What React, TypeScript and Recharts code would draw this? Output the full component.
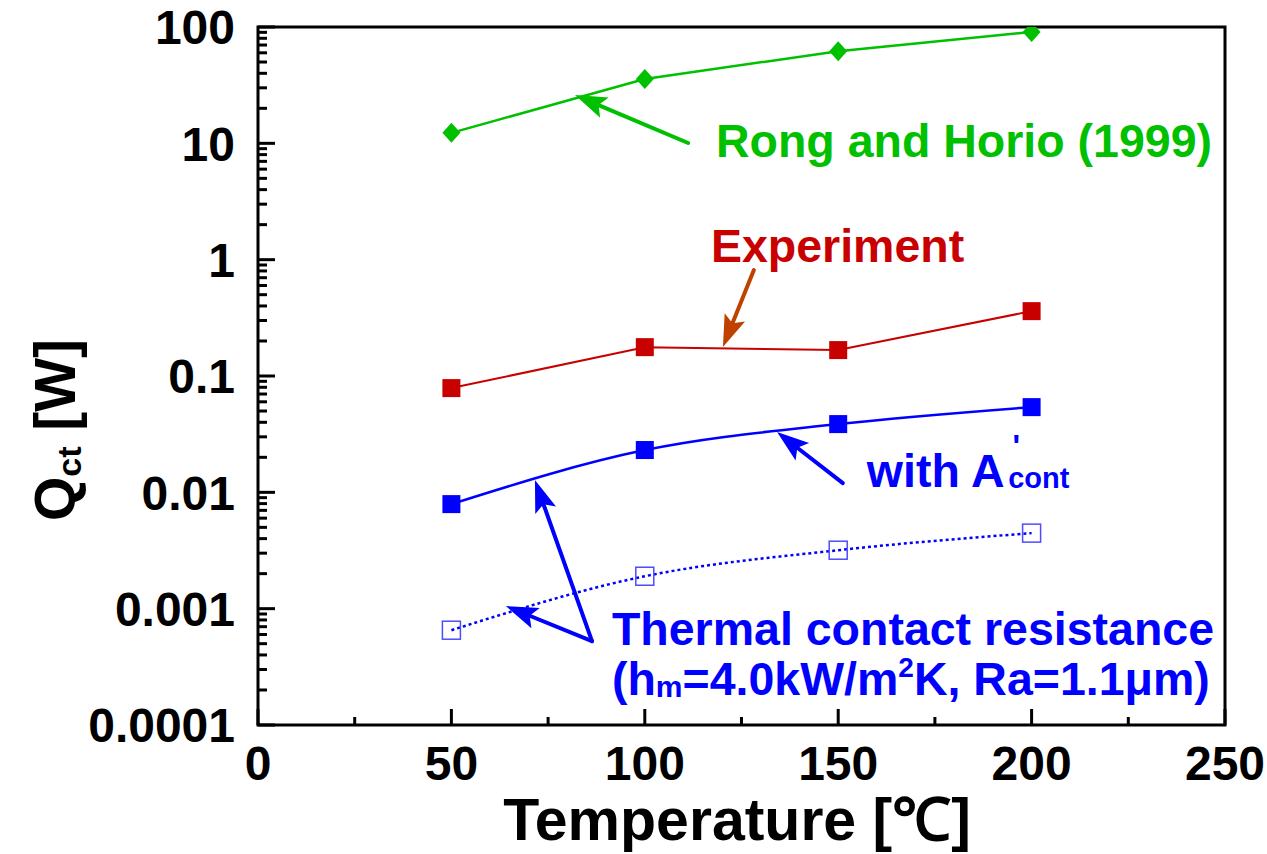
import React from 'react';
import {
  LineChart,
  Line,
  XAxis,
  YAxis,
  ReferenceArea,
  ReferenceLine,
  ReferenceDot,
} from 'recharts';

const FONT = "'Liberation Sans', Arial, Helvetica, sans-serif";
const GREEN = '#00c000';
const RED = '#c80000';
const BLUE = '#0000ff';
const ORANGE = '#c04000';

// data
const temps = [50, 100, 150, 200];
const rongHorio = [12.3, 35.7, 62, 90.6];
const experiment = [0.0787, 0.177, 0.167, 0.361];
const withAcont = [0.00792, 0.0231, 0.0386, 0.054];
const contactRes = [0.000653, 0.0019, 0.00318, 0.00446];

const xTicks = [0, 25, 50, 75, 100, 125, 150, 175, 200, 225, 250];
const xMajor = [0, 50, 100, 150, 200, 250];
const yDecades = [0.0001, 0.001, 0.01, 0.1, 1, 10, 100];
const yLabels = ['0.0001', '0.001', '0.01', '0.1', '1', '10', '100'];
const minorSteps = [2, 3, 4, 5, 6, 7, 8, 9];

const yTicks: number[] = [];
yDecades.forEach((d, i) => {
  yTicks.push(d);
  if (i < yDecades.length - 1) minorSteps.forEach((m) => yTicks.push(+(d * m).toPrecision(3)));
});

const data = temps.map((t, i) => ({
  t,
  rong: rongHorio[i],
  exp: experiment[i],
  acont: withAcont[i],
  tcr: contactRes[i],
}));

const YTick = (props: any) => {
  const { x, y, payload } = props;
  const idx = yDecades.findIndex((d) => Math.abs(d - payload.value) < d * 1e-6);
  const major = idx >= 0;
  return (
    <g>
      <line x1={x} x2={x + (major ? 17 : 9)} y1={y} y2={y} stroke="#000" strokeWidth={3} />
      {major && (
        <text x={x - 23} y={y} dy="0.36em" textAnchor="end" fontFamily={FONT} fontWeight="bold" fontSize={48} fill="#000">
          {yLabels[idx]}
        </text>
      )}
    </g>
  );
};

const XTick = (props: any) => {
  const { x, y, payload } = props;
  const major = xMajor.includes(payload.value);
  return (
    <g>
      <line x1={x} x2={x} y1={y} y2={y - (major ? 16 : 8)} stroke="#000" strokeWidth={3} />
      {major && (
        <text x={x} y={y + 55} textAnchor="middle" fontFamily={FONT} fontWeight="bold" fontSize={48} fill="#000">
          {payload.value}
        </text>
      )}
    </g>
  );
};

const Arrow = (props: any) => {
  const { x1, y1, x2, y2, color } = props;
  const dx = x2 - x1;
  const dy = y2 - y1;
  const len = Math.sqrt(dx * dx + dy * dy) || 1;
  const ux = dx / len;
  const uy = dy / len;
  const hl = 32;
  const hw = 11;
  const bx = x2 - ux * hl;
  const by = y2 - uy * hl;
  const nx = x2 - ux * hl * 0.8;
  const ny = y2 - uy * hl * 0.8;
  const pts = [
    [x2, y2],
    [bx - uy * hw, by + ux * hw],
    [nx, ny],
    [bx + uy * hw, by - ux * hw],
  ]
    .map((p) => p.join(','))
    .join(' ');
  return (
    <g>
      <line x1={x1} y1={y1} x2={nx} y2={ny} stroke={color} strokeWidth={4} strokeLinecap="round" />
      <polygon points={pts} fill={color} />
    </g>
  );
};

const squareDot = (fill: string, stroke: string, open = false) => (p: any) => (
  <rect
    key={`sq-${p.index}`}
    x={p.cx - 9}
    y={p.cy - 9}
    width={18}
    height={18}
    fill={open ? 'none' : fill}
    stroke={stroke}
    strokeWidth={open ? 1.5 : 0}
  />
);

const diamondDot = (p: any) => (
  <path
    key={`dm-${p.index}`}
    d={`M${p.cx},${p.cy - 10} L${p.cx + 9},${p.cy} L${p.cx},${p.cy + 10} L${p.cx - 9},${p.cy} Z`}
    fill={GREEN}
  />
);

const txt = { fontFamily: FONT, fontWeight: 'bold' as const, fontSize: 46.5 };

export default function App() {
  return (
    <div style={{ position: 'absolute', left: 0, top: 0, background: '#fff' }}>
      <LineChart width={1267} height={854} data={data} margin={{ top: 27, right: 42, left: 0, bottom: 0 }}>
        <XAxis
          dataKey="t"
          type="number"
          domain={[0, 250]}
          ticks={xTicks}
          interval={0}
          height={129}
          axisLine={false}
          tickLine={false}
          tickSize={0}
          tickMargin={0}
          tick={<XTick />}
          label={{
            content: (p: any) => {
              const vb = p.viewBox;
              return (
                <text x={vb.x + 479} y={vb.y + 115} textAnchor="middle" fontFamily={FONT} fontWeight="bold" fontSize={59} fill="#000">
                  Temperature [℃]
                </text>
              );
            },
          }}
        />
        <YAxis
          type="number"
          scale="log"
          domain={[0.0001, 100]}
          allowDataOverflow
          ticks={yTicks}
          interval={0}
          width={258}
          axisLine={false}
          tickLine={false}
          tickSize={0}
          tickMargin={0}
          tick={<YTick />}
          label={{
            content: (p: any) => {
              const vb = p.viewBox;
              const cx = vb.x + 75;
              const cy = vb.y + 403;
              return (
                <text
                  x={cx}
                  y={cy}
                  transform={`rotate(-90 ${cx} ${cy})`}
                  textAnchor="middle"
                  fontFamily={FONT}
                  fontWeight="bold"
                  fontSize={57}
                  fill="#000"
                >
                  Q<tspan fontSize={34} dy={6}>ct</tspan>
                  <tspan dy={-6}> [W]</tspan>
                </text>
              );
            },
          }}
        />

        <ReferenceArea x1={0} x2={250} y1={0.0001} y2={100} fill="none" stroke="#000" strokeWidth={3} ifOverflow="visible" />

        <Line
          dataKey="rong"
          type="linear"
          stroke={GREEN}
          strokeWidth={2.5}
          dot={diamondDot}
          activeDot={false}
          isAnimationActive={false}
        />
        <Line
          dataKey="exp"
          type="linear"
          stroke={RED}
          strokeWidth={2}
          dot={squareDot(RED, RED)}
          activeDot={false}
          isAnimationActive={false}
        />
        <Line
          dataKey="acont"
          type="monotone"
          stroke={BLUE}
          strokeWidth={2.5}
          dot={squareDot(BLUE, BLUE)}
          activeDot={false}
          isAnimationActive={false}
        />
        <Line
          dataKey="tcr"
          type="monotone"
          stroke={BLUE}
          strokeWidth={2.5}
          strokeDasharray="3 3"
          dot={squareDot(BLUE, '#4d4dff', true)}
          activeDot={false}
          isAnimationActive={false}
        />

        {/* annotation arrows: tail -> tip */}
        <ReferenceLine
          segment={[{ x: 111.2, y: 10.06 }, { x: 81.95, y: 26.0 }]}
          ifOverflow="visible"
          shape={(p: any) => <Arrow {...p} color={GREEN} />}
        />
        <ReferenceLine
          segment={[{ x: 128.2, y: 0.814 }, { x: 120.2, y: 0.1772 }]}
          ifOverflow="visible"
          shape={(p: any) => <Arrow {...p} color={ORANGE} />}
        />
        <ReferenceLine
          segment={[{ x: 151.2, y: 0.012 }, { x: 134.2, y: 0.03296 }]}
          ifOverflow="visible"
          shape={(p: any) => <Arrow {...p} color={BLUE} />}
        />
        <ReferenceLine
          segment={[{ x: 86.35, y: 0.000526 }, { x: 71.6, y: 0.01274 }]}
          ifOverflow="visible"
          shape={(p: any) => <Arrow {...p} color={BLUE} />}
        />
        <ReferenceLine
          segment={[{ x: 86.35, y: 0.000526 }, { x: 64.1, y: 0.001052 }]}
          ifOverflow="visible"
          shape={(p: any) => <Arrow {...p} color={BLUE} />}
        />

        {/* annotation texts, anchored at left baseline */}
        <ReferenceDot
          x={118.4}
          y={7.62}
          r={0}
          ifOverflow="visible"
          shape={(p: any) => (
            <text x={p.cx} y={p.cy} {...txt} fill={GREEN}>
              Rong and Horio (1999)
            </text>
          )}
        />
        <ReferenceDot
          x={117.1}
          y={0.9537}
          r={0}
          ifOverflow="visible"
          shape={(p: any) => (
            <text x={p.cx} y={p.cy} {...txt} fill={RED}>
              Experiment
            </text>
          )}
        />
        <ReferenceDot
          x={157.4}
          y={0.01109}
          r={0}
          ifOverflow="visible"
          shape={(p: any) => (
            <text x={p.cx} y={p.cy} {...txt} fill={BLUE}>
              with A
              <tspan fontSize={32} dx={8} dy={-30}>'</tspan>
              <tspan fontSize={29} dx={-12} dy={31}>cont</tspan>
            </text>
          )}
        />
        <ReferenceDot
          x={91.5}
          y={0.000485}
          r={0}
          ifOverflow="visible"
          shape={(p: any) => (
            <text x={p.cx} y={p.cy} {...txt} fill={BLUE}>
              Thermal contact resistance
            </text>
          )}
        />
        <ReferenceDot
          x={91.5}
          y={0.0001803}
          r={0}
          ifOverflow="visible"
          shape={(p: any) => (
            <text x={p.cx} y={p.cy} {...txt} fill={BLUE}>
              (h<tspan fontSize={30} dy={2}>m</tspan>
              <tspan dy={-2}>=4.0kW/m</tspan>
              <tspan fontSize={28} dy={-18}>2</tspan>
              <tspan dy={18}>K, Ra=1.1μm)</tspan>
            </text>
          )}
        />
      </LineChart>
    </div>
  );
}
